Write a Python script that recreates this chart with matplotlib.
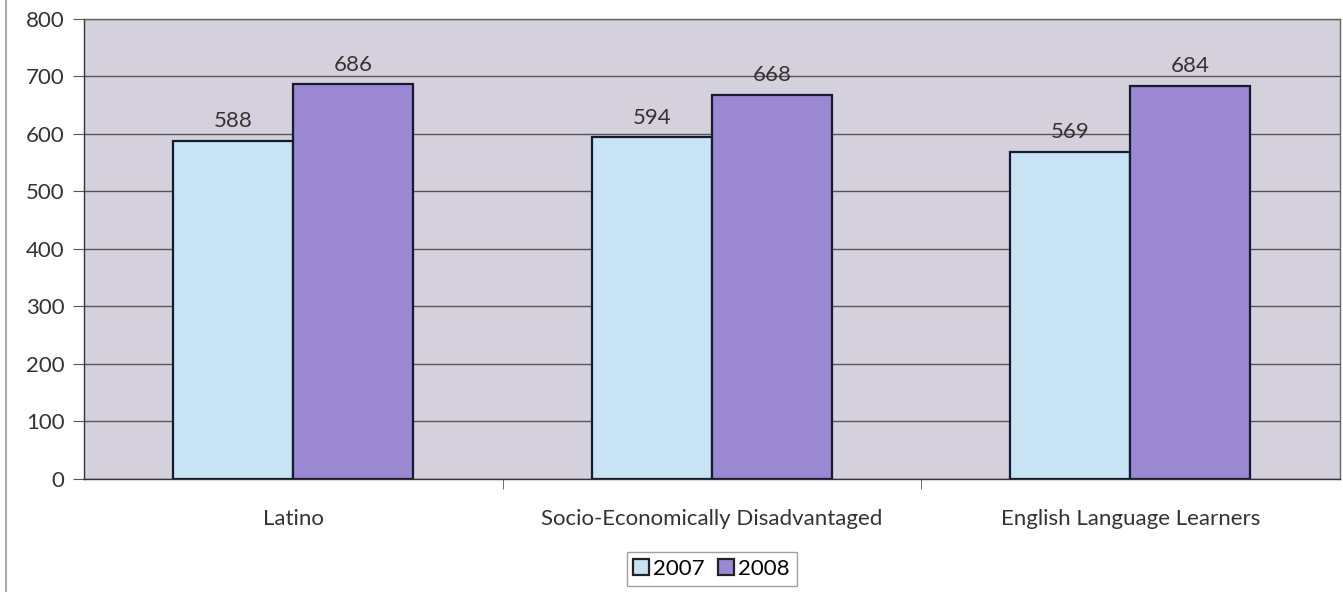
import numpy as np
import matplotlib.pyplot as plt
from matplotlib.lines import Line2D

groups = ['Latino', 'Socio-Economically Disadvantaged', 'English Language Learners']
years = ['2007', '2008']
vals_2007 = [588, 594, 569]
vals_2008 = [686, 668, 684]

c2007 = '#c8e4f4'
c2008 = '#9b88d2'
bg = '#d5d1dc'

plt.rcParams['font.family'] = ['Lato', 'DejaVu Sans']

fig = plt.figure(figsize=(13.43, 5.92), dpi=100)
ax = fig.add_axes([0.0625, 0.191, 0.935, 0.777])
ax.set_facecolor(bg)

x = np.arange(len(groups))
w = 0.287
b1 = ax.bar(x - w/2, vals_2007, w, color=c2007, edgecolor='#151a30', linewidth=1.6, label=years[0], zorder=3)
b2 = ax.bar(x + w/2, vals_2008, w, color=c2008, edgecolor='#151a30', linewidth=1.6, label=years[1], zorder=3)

# value labels above each bar
for bars, vals in ((b1, vals_2007), (b2, vals_2008)):
    for r, v in zip(bars, vals):
        ax.text(r.get_x() + r.get_width()/2, v + 17, str(v), ha='center', va='bottom',
                fontsize=16, color='#333333', zorder=4)

ax.set_xlim(-0.5, 2.5)
ax.set_ylim(0, 800)
ax.set_yticks(range(0, 801, 100))
ax.yaxis.grid(True, color='#555555', linewidth=1.0, zorder=1)
ax.set_axisbelow(True)

ax.set_xticks(x)
ax.set_xticklabels(groups, fontsize=16, color='#333333')
ax.tick_params(axis='x', length=0, pad=22)
ax.set_xticks([0.5, 1.5], minor=True)
ax.tick_params(axis='x', which='minor', length=7, color='#555555')
ax.tick_params(axis='y', labelsize=16, labelcolor='#333333', length=8, color='#555555', pad=6)

for s in ax.spines.values():
    s.set_color('#666666')
    s.set_linewidth(1.0)
ax.spines['left'].set_color('#333333')
ax.spines['bottom'].set_color('#333333')

leg = fig.legend(handles=[b1, b2], labels=years, loc='center', bbox_to_anchor=(0.530, 0.039),
                 ncol=2, fontsize=16, frameon=True, fancybox=False, edgecolor='#888888',
                 handlelength=0.7, handleheight=0.7, handletextpad=0.2, columnspacing=0.6,
                 borderpad=0.3)
leg.get_frame().set_linewidth(1.0)
for h in leg.legend_handles:
    h.set_edgecolor('#222222')

# page border on the left
fig.add_artist(Line2D([0.0045, 0.0045], [0, 1], color='#999999', linewidth=1.2))

fig.savefig('out.png', dpi=100)
